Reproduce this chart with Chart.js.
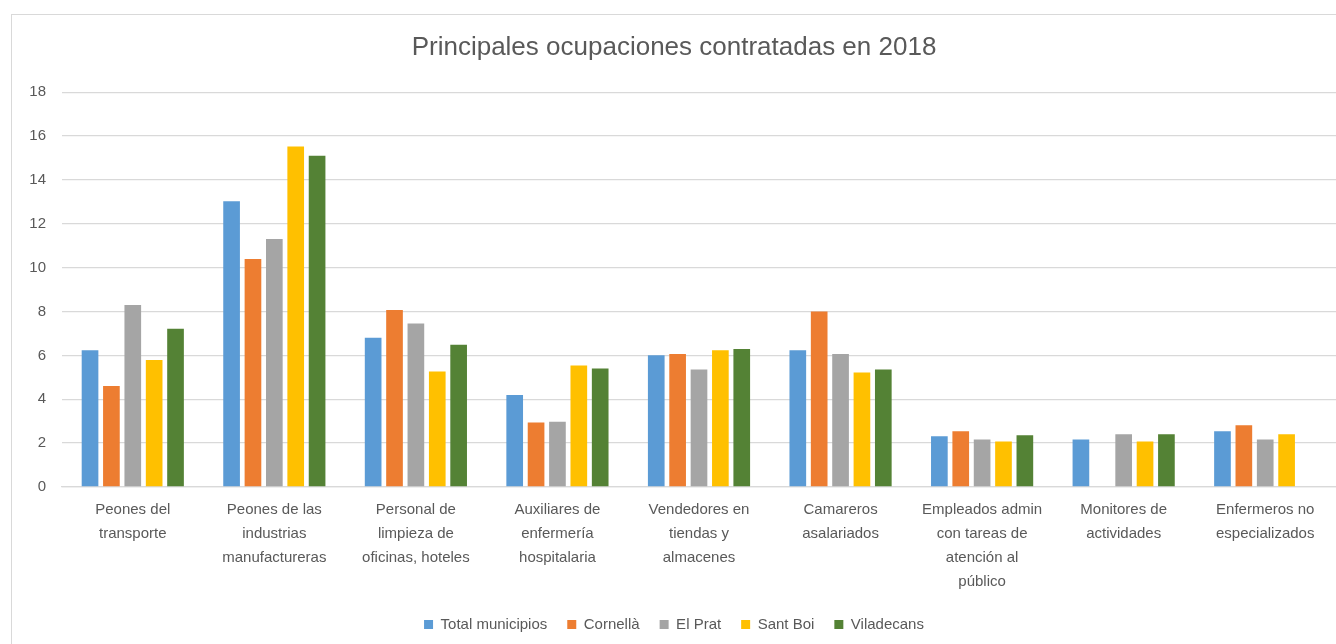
<!DOCTYPE html>
<html>
<head>
<meta charset="utf-8">
<script src="https://cdn.jsdelivr.net/npm/chart.js@4.4.1/dist/chart.umd.min.js"></script>
<style>
    html, body { margin: 0; padding: 0; background: #fff; overflow: hidden; }
    .frame {
        position: absolute; left: 11px; top: 14px;
        width: 1340px; height: 640px;
        border: 1px solid #d9d9d9;
    }
    .chart-box { position: absolute; left: 0; top: 0; width: 1324px; height: 629px; }
</style>
</head>
<body>
<div class="frame">
    <div class="chart-box"><canvas id="ocupChart"></canvas></div>
</div>
<script>
// Categories (x axis, multi-line labels)
const categories = [
    ['Peones del', 'transporte'],
    ['Peones de las', 'industrias', 'manufactureras'],
    ['Personal de', 'limpieza de', 'oficinas, hoteles'],
    ['Auxiliares de', 'enfermería', 'hospitalaria'],
    ['Vendedores en', 'tiendas y', 'almacenes'],
    ['Camareros', 'asalariados'],
    ['Empleados admin', 'con tareas de', 'atención al', 'público'],
    ['Monitores de', 'actividades'],
    ['Enfermeros no', 'especializados']
];

// Series values (% of contracts)
const totalMunicipios = [6.24, 13.03, 6.80, 4.19, 6.01, 6.24, 2.31, 2.16, 2.54];
const cornella        = [4.61, 10.40, 8.07, 2.94, 6.06, 8.00, 2.54, null, 2.81];
const elPrat          = [8.30, 11.31, 7.46, 2.98, 5.36, 6.06, 2.16, 2.40, 2.16];
const santBoi         = [5.79, 15.53, 5.27, 5.54, 6.24, 5.22, 2.07, 2.07, 2.40];
const viladecans      = [7.21, 15.10, 6.48, 5.40, 6.29, 5.36, 2.36, 2.40, null];

const yTicks = [0, 2, 4, 6, 8, 10, 12, 14, 16, 18];

const textColor = '#595959';
const gridColor = '#d9d9d9';
const fontFamily = '"Liberation Sans", Arial, sans-serif';

function series(label, data, color) {
    return {
        label: label,
        data: data,
        backgroundColor: color,
        borderWidth: 0,
        categoryPercentage: 0.755,
        barPercentage: 0.78
    };
}

new Chart(document.getElementById('ocupChart'), {
    type: 'bar',
    data: {
        labels: categories,
        datasets: [
            series('Total municipios', totalMunicipios, '#5b9bd5'),
            series('Cornellà', cornella, '#ed7d31'),
            series('El Prat', elPrat, '#a5a5a5'),
            series('Sant Boi', santBoi, '#ffc000'),
            series('Viladecans', viladecans, '#548235')
        ]
    },
    options: {
        responsive: true,
        maintainAspectRatio: false,
        animation: false,
        layout: { padding: { left: 0, right: 0, top: 0, bottom: 2 } },
        plugins: {
            title: {
                display: true,
                text: 'Principales ocupaciones contratadas en 2018',
                color: textColor,
                font: { family: fontFamily, size: 26, weight: 'normal' },
                padding: { top: 17, bottom: 29 }
            },
            legend: {
                position: 'bottom',
                labels: {
                    color: textColor,
                    font: { family: fontFamily, size: 15 },
                    boxWidth: 9,
                    boxHeight: 9,
                    padding: 20
                }
            },
            tooltip: { enabled: false }
        },
        scales: {
            y: {
                min: 0,
                max: 18,
                afterBuildTicks: (axis) => { axis.ticks = yTicks.map(v => ({ value: v })); },
                afterFit: (axis) => { axis.width = 50; },
                border: { display: false },
                grid: { color: gridColor, lineWidth: 1.3, drawTicks: false },
                ticks: {
                    color: textColor,
                    font: { family: fontFamily, size: 15 },
                    padding: 16
                }
            },
            x: {
                border: { color: gridColor, width: 1.3 },
                grid: { display: false, drawTicks: false },
                afterFit: (axis) => { axis.height = 110; },
                ticks: {
                    color: textColor,
                    font: { family: fontFamily, size: 15, lineHeight: 1.6 },
                    padding: 11,
                    maxRotation: 0,
                    autoSkip: false
                }
            }
        }
    }
});
</script>
</body>
</html>
